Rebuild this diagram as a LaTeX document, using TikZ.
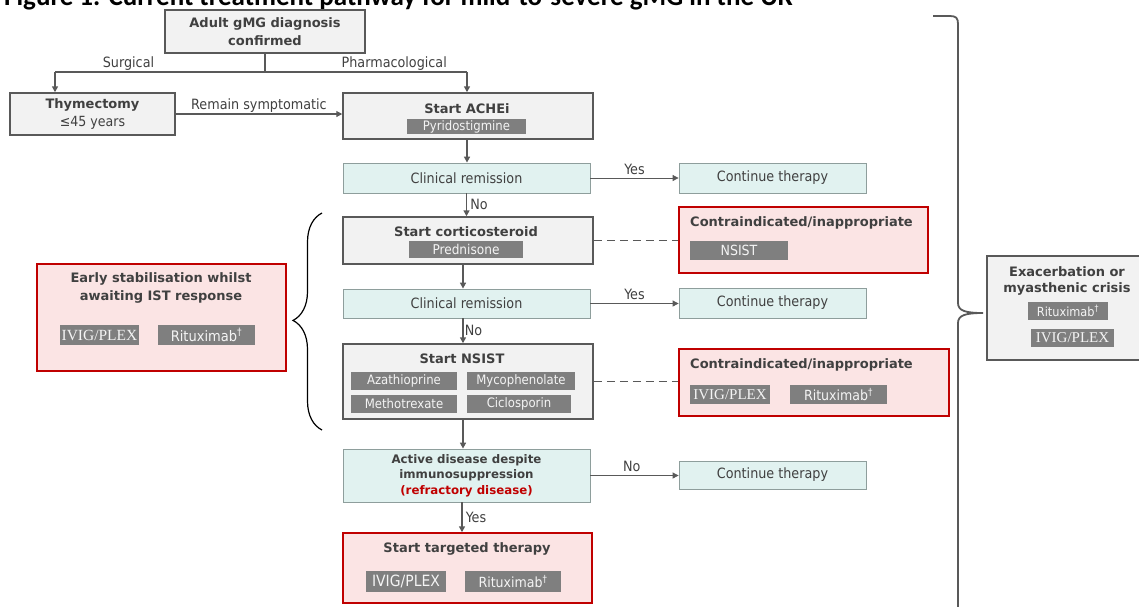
\documentclass[tikz,border=0pt]{standalone}
\usepackage{fontspec}
\setmainfont{DejaVu Sans}
\newfontfamily\condfont{DejaVu Sans Condensed}
\newfontfamily\tagserif{Liberation Serif}
\newfontfamily\titlefont{Carlito}
\usepackage{xcolor}
\usetikzlibrary{arrows.meta,decorations.pathreplacing,positioning}

\definecolor{boxgray}{HTML}{F2F2F2}
\definecolor{linegray}{HTML}{595959}
\definecolor{txtgray}{HTML}{404040}
\definecolor{tealfill}{HTML}{E1F2F0}
\definecolor{tealline}{HTML}{8E9E9C}
\definecolor{redline}{HTML}{C00000}
\definecolor{pinkfill}{HTML}{FBE4E4}
\definecolor{taggray}{HTML}{7F7F7F}
\definecolor{tagtext}{HTML}{F4F4F4}

\begin{document}
\begin{tikzpicture}[x=1pt,y=-1pt,
  stepbox/.style={draw=linegray,line width=1.5pt,fill=boxgray,inner sep=0pt,text=txtgray,align=center},
  checkbox/.style={draw=tealline,line width=0.8pt,fill=tealfill,inner sep=0pt,text=txtgray,align=center,font=\condfont\fontsize{14.2}{16}\selectfont},
  alertbox/.style={draw=redline,line width=1.5pt,fill=pinkfill,inner sep=0pt},
  head/.style={text=txtgray,font=\bfseries\fontsize{13}{18}\selectfont,align=center,inner sep=0pt},
  drug/.style={fill=taggray,text=tagtext,inner sep=0pt,font=\condfont\fontsize{13}{14}\selectfont},
  ivig/.style={drug,font=\tagserif\fontsize{15}{16}\selectfont},
  lbl/.style={text=txtgray,font=\condfont\fontsize{14.2}{16}\selectfont,inner sep=1pt},
  flow/.style={draw=linegray,line width=1.5pt,-{Triangle[length=6pt,width=6pt]}},
  slim/.style={draw=linegray,line width=0.8pt,-{Triangle[length=6pt,width=6pt]}},
]
\useasboundingbox (0,0) rectangle (1139,606);

% figure caption, cut by the top edge
\node[anchor=base west,inner sep=0pt,font=\titlefont\bfseries\fontsize{27}{30}\selectfont] (caption) at (4,5)
  {Figure 1. Current treatment pathway for mild-to-severe gMG in the UK};

% main column
\node[stepbox,minimum width=200pt,minimum height=43pt,font=\bfseries\fontsize{13}{18}\selectfont] (adult) at (265,31.5) {Adult gMG diagnosis\\confirmed};
\node[stepbox,minimum width=165pt,minimum height=42pt,font=\fontsize{13}{18}\selectfont] (thym) at (92.5,114) {\textbf{Thymectomy}\\{\condfont\fontsize{14}{18}\selectfont ≤45 years}};

\node[stepbox,minimum width=250pt,minimum height=46pt] (achei) at (468,116) {};
\node[head] (achei-t) at (467,109) {Start ACHEi};
\node[drug,minimum width=119pt,minimum height=15pt] (pyr) at (466.5,126.5) {Pyridostigmine};

\node[checkbox,minimum width=247pt,minimum height=30pt] (rem1) at (466.5,178) {Clinical remission};
\node[checkbox,minimum width=187pt,minimum height=30pt] (cont1) at (772.5,178) {Continue therapy};

\node[stepbox,minimum width=250pt,minimum height=47pt] (cort) at (468,240.5) {};
\node[head] (cort-t) at (466,232) {Start corticosteroid};
\node[drug,minimum width=114pt,minimum height=17pt,font=\condfont\fontsize{13.5}{14}\selectfont] (pred) at (466,249.5) {Prednisone};

\node[alertbox,minimum width=249pt,minimum height=66pt] (ci1) at (803.5,240) {};
\node[head,anchor=west] (ci1-t) at (690,223) {Contraindicated/inappropriate};
\node[drug,minimum width=98pt,minimum height=19pt,font=\condfont\fontsize{14}{15}\selectfont] (nsist1) at (739,250.5) {NSIST};

\node[checkbox,minimum width=247pt,minimum height=29pt] (rem2) at (466.5,303.5) {Clinical remission};
\node[checkbox,minimum width=187pt,minimum height=30pt] (cont2) at (772.5,303) {Continue therapy};

\node[stepbox,minimum width=250pt,minimum height=75pt] (nsist) at (468,381.5) {};
\node[head] (nsist-t) at (462,359) {Start NSIST};
\begin{scope}[every node/.append style={font=\condfont\fontsize{12.6}{14}\selectfont}]
\node[drug,minimum width=106pt,minimum height=18pt] (aza) at (404,381) {Azathioprine};
\node[drug,minimum width=108pt,minimum height=18pt] (myco) at (521,381) {Mycophenolate};
\node[drug,minimum width=106pt,minimum height=18pt] (mtx) at (404,404) {Methotrexate};
\node[drug,minimum width=104pt,minimum height=18pt] (cic) at (519,404) {Ciclosporin};
\end{scope}

\node[alertbox,minimum width=270pt,minimum height=67pt] (ci2) at (814,382.5) {};
\node[head,anchor=west] (ci2-t) at (690,365) {Contraindicated/inappropriate};
\node[ivig,minimum width=80pt,minimum height=19pt] (ivig2) at (730,394.5) {IVIG/PLEX};
\node[drug,minimum width=97pt,minimum height=19pt,font=\condfont\fontsize{14}{15}\selectfont] (rtx2) at (838.5,394.5) {Rituximab\textsuperscript{†}};

\node[checkbox,minimum width=247pt,minimum height=53pt,font=\bfseries\fontsize{11.8}{15.5}\selectfont] (active) at (466.5,475.5)
  {Active disease despite\\immunosuppression\\\textcolor{redline}{(refractory disease)}};
\node[checkbox,minimum width=187pt,minimum height=28pt] (cont3) at (772.5,475) {Continue therapy};

\node[alertbox,minimum width=249pt,minimum height=70pt] (target) at (467.5,568) {};
\node[head] (target-t) at (467,549) {Start targeted therapy};
\node[drug,minimum width=80pt,minimum height=21pt,font=\condfont\fontsize{15.5}{16}\selectfont] (ivig3) at (406,581.5) {IVIG/PLEX};
\node[drug,minimum width=96pt,minimum height=21pt,font=\condfont\fontsize{14}{15}\selectfont] (rtx3) at (513,581.5) {Rituximab\textsuperscript{†}};

% side boxes
\node[alertbox,minimum width=249pt,minimum height=107pt] (early) at (161.5,317.5) {};
\node[head] (early-t) at (161,288) {Early stabilisation whilst\\awaiting IST response};
\node[ivig,minimum width=79pt,minimum height=20pt,font=\tagserif\fontsize{15.5}{16}\selectfont] (ivig1) at (99.5,335) {IVIG/PLEX};
\node[drug,minimum width=97pt,minimum height=20pt,font=\condfont\fontsize{14.5}{15}\selectfont] (rtx1) at (206.5,335) {Rituximab\textsuperscript{†}};

\node[stepbox,minimum width=161pt,minimum height=104pt] (exac) at (1067.5,308) {};
\node[head,font=\bfseries\fontsize{13}{16.5}\selectfont] (exac-t) at (1067,281) {Exacerbation or\\myasthenic crisis};
\node[drug,minimum width=80pt,minimum height=18pt,font=\condfont\fontsize{12.6}{14}\selectfont] (rtx4) at (1068,311) {Rituximab\textsuperscript{†}};
\node[ivig,minimum width=83pt,minimum height=18pt] (ivig4) at (1072.5,338) {IVIG/PLEX};

% connectors
\coordinate (fork) at (265,72);
\coordinate (forkL) at (55,72);
\coordinate (forkR) at (467,72);
\draw[linegray,line width=1.5pt] (adult.south) -- (fork);
\draw[linegray,line width=1.5pt] (forkL) -- node[lbl,above,pos=0.35] {Surgical} (fork)
  -- node[lbl,above,pos=0.64] {Pharmacological} (forkR);
\draw[flow] (forkL) -- (forkL |- thym.north);
\draw[flow] (forkR) -- (forkR |- achei.north);
\draw[slim,line width=1.1pt] (thym.east) -- node[lbl,above] {Remain symptomatic} (thym.east -| achei.west);

\draw[flow] ([xshift=-1pt]achei.south) -- ([xshift=-1pt]achei.south |- rem1.north);
\draw[slim] (rem1.east) -- node[lbl,above,yshift=2pt] {Yes} (cont1.west);
\draw[flow] (rem1.south) -- node[lbl,right,xshift=2pt] {No} (rem1.south |- cort.north);
\draw[linegray,line width=1.5pt,dash pattern=on 8pt off 5pt] (cort.east) -- (cort.east -| ci1.west);
\draw[flow] ([xshift=-5pt]cort.south) -- ([xshift=-5pt]cort.south |- rem2.north);
\draw[slim] (rem2.east) -- node[lbl,above,yshift=2pt] {Yes} (rem2.east -| cont2.west);
\draw[flow] ([xshift=-3.5pt]rem2.south) -- node[lbl,right] {No} ([xshift=-3.5pt]rem2.south |- nsist.north);
\draw[linegray,line width=1.5pt,dash pattern=on 8pt off 5pt] (nsist.east) -- (nsist.east -| ci2.west);
\draw[flow] ([xshift=-5pt]nsist.south) -- ([xshift=-5pt]nsist.south |- active.north);
\draw[slim] (active.east) -- node[lbl,above,pos=0.47,yshift=2pt] {No} (active.east -| cont3.west);
\draw[flow] ([xshift=-4.5pt]active.south) -- node[lbl,right,xshift=2pt] {Yes} ([xshift=-4.5pt]active.south |- target.north);

% braces
\draw[black,line width=1.2pt,decorate,decoration={brace,amplitude=29pt,aspect=0.505}] (322,430) -- (322,213);
\coordinate (tip) at (983,313);
\draw[linegray,line width=1.8pt] (933,16) -- (950,16) .. controls (956,16) and (958,18) .. (958,24) -- (958,303)
  .. controls (958,311) and (966,313) .. (tip) .. controls (966,313) and (958,315) .. (958,323) -- (958,612);
\end{tikzpicture}
\end{document}
